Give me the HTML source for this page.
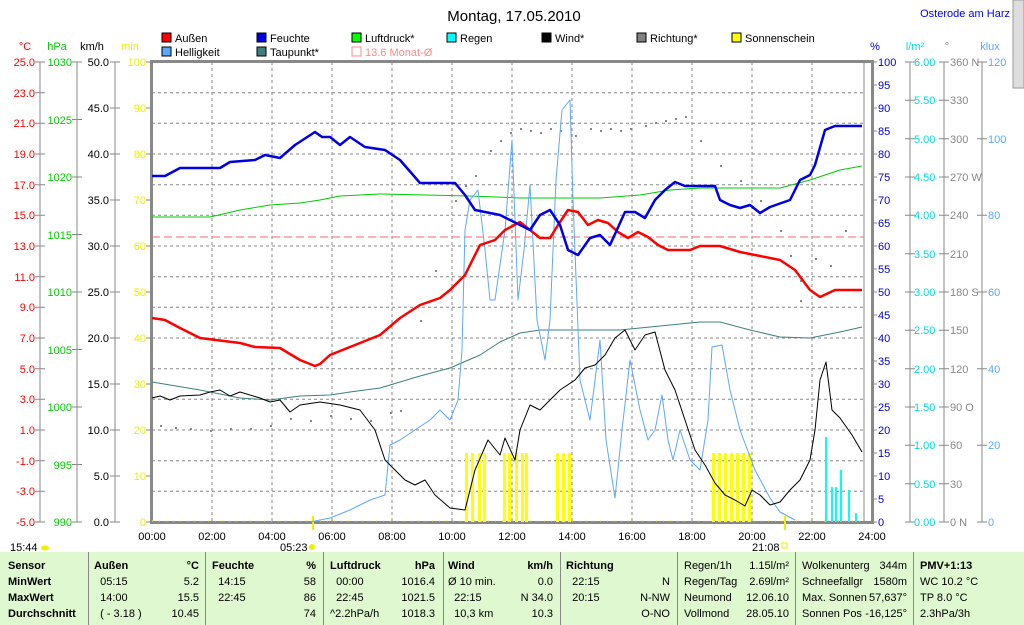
<!DOCTYPE html>
<html><head><meta charset="utf-8"><style>
body{margin:0;width:1024px;height:625px;overflow:hidden;background:#fff;font-family:"Liberation Sans",sans-serif}
svg{position:absolute;left:0;top:0}
text{font-family:"Liberation Sans",sans-serif;font-size:11px}
.tb{position:absolute;top:552px;left:0;width:1024px;height:73px;background:#e0f8d0}
.c{position:absolute;top:6px;font-size:11px;line-height:16px;color:#000}
.c div{white-space:pre}
.v{position:absolute;top:552px;width:1px;height:73px;background:#888}
</style></head><body>
<svg width="1024" height="625" viewBox="0 0 1024 625">
<rect x="1013" y="0" width="11" height="88" fill="#ddd" stroke="#999"/>
<text x="514" y="21" text-anchor="middle" style="font-size:15px">Montag, 17.05.2010</text>
<text x="1010" y="17" text-anchor="end" fill="#0000ff">Osterode am Harz</text>
<g font-size="11">
<rect x="162" y="33" width="9" height="9" fill="#f00" stroke="#000"/><text x="175" y="42">Außen</text>
<rect x="162" y="47" width="9" height="9" fill="#5ba8ff" stroke="#000"/><text x="175" y="56">Helligkeit</text>
<rect x="257" y="33" width="9" height="9" fill="#0000e0" stroke="#000"/><text x="270" y="42">Feuchte</text>
<rect x="257" y="47" width="9" height="9" fill="#3e8080" stroke="#000"/><text x="270" y="56">Taupunkt*</text>
<rect x="352" y="33" width="9" height="9" fill="#0f0" stroke="#000"/><text x="365" y="42">Luftdruck*</text>
<rect x="352" y="47" width="9" height="9" fill="none" stroke="#f88"/><text x="365" y="56" fill="#f88">13.6 Monat-Ø</text>
<rect x="447" y="33" width="9" height="9" fill="#0ff" stroke="#000"/><text x="460" y="42">Regen</text>
<rect x="542" y="33" width="9" height="9" fill="#000" stroke="#000"/><text x="555" y="42">Wind*</text>
<rect x="637" y="33" width="9" height="9" fill="#808080" stroke="#000"/><text x="650" y="42">Richtung*</text>
<rect x="732" y="33" width="9" height="9" fill="#ff0" stroke="#000"/><text x="745" y="42">Sonnenschein</text>
</g>
<text x="25" y="50" text-anchor="middle" fill="#f00">°C</text>
<text x="57" y="50" text-anchor="middle" fill="#0c0">hPa</text>
<text x="92" y="50" text-anchor="middle">km/h</text>
<text x="130" y="50" text-anchor="middle" fill="#ee0">min</text>
<text x="875" y="50" text-anchor="middle" fill="#0000e0">%</text>
<text x="915" y="50" text-anchor="middle" fill="#0dd">l/m²</text>
<text x="947" y="50" text-anchor="middle" fill="#888">°</text>
<text x="990" y="50" text-anchor="middle" fill="#5ba8ff">klux</text>
<g stroke="#888" fill="none">
<line x1="40" y1="62" x2="40" y2="522"/><line x1="77" y1="62" x2="77" y2="522"/><line x1="115" y1="62" x2="115" y2="522"/>
<line x1="910" y1="62" x2="910" y2="522"/><line x1="944" y1="62" x2="944" y2="522"/><line x1="982" y1="62" x2="982" y2="522"/>
<line x1="864" y1="62" x2="864" y2="522"/>
</g>
<rect x="151.5" y="61.5" width="721" height="461" fill="none" stroke="#888" stroke-width="3"/>
<g id="grid" stroke="#888" stroke-dasharray="3,3" fill="none">
<path d="M212 62V522M272 62V522M332 62V522M392 62V522M452 62V522M512 62V522M572 62V522M632 62V522M692 62V522M752 62V522M812 62V522"/>
<path d="M152 92.7H864M152 123.3H864M152 154H864M152 184.7H864M152 215.3H864M152 246H864M152 276.7H864M152 307.3H864M152 338H864M152 368.7H864M152 399.3H864M152 430H864M152 460.7H864M152 491.3H864"/>
</g>
<g id="ticks" stroke="#888">
<path d="M35 62h10M35 92.7h10M35 123.3h10M35 154h10M35 184.7h10M35 215.3h10M35 246h10M35 276.7h10M35 307.3h10M35 338h10M35 368.7h10M35 399.3h10M35 430h10M35 460.7h10M35 491.3h10M35 522h10"/>
<path d="M72 62h10M72 119.5h10M72 177h10M72 234.5h10M72 292h10M72 349.5h10M72 407h10M72 464.5h10M72 522h10"/>
<path d="M110 62h10M110 108h10M110 154h10M110 200h10M110 246h10M110 292h10M110 338h10M110 384h10M110 430h10M110 476h10M110 522h10"/>
<path d="M146 62h6M146 108h6M146 154h6M146 200h6M146 246h6M146 292h6M146 338h6M146 384h6M146 430h6M146 476h6M146 522h6"/>
<path d="M872 62h5M872 85h5M872 108h5M872 131h5M872 154h5M872 177h5M872 200h5M872 223h5M872 246h5M872 269h5M872 292h5M872 315h5M872 338h5M872 361h5M872 384h5M872 407h5M872 430h5M872 453h5M872 476h5M872 499h5M872 522h5"/>
<path d="M905 62h10M905 100.3h10M905 138.7h10M905 177h10M905 215.3h10M905 253.7h10M905 292h10M905 330.3h10M905 368.7h10M905 407h10M905 445.3h10M905 483.7h10M905 522h10"/>
<path d="M939 62h10M939 100.3h10M939 138.7h10M939 177h10M939 215.3h10M939 253.7h10M939 292h10M939 330.3h10M939 368.7h10M939 407h10M939 445.3h10M939 483.7h10M939 522h10"/>
<path d="M977 62h10M977 138.7h10M977 215.3h10M977 292h10M977 368.7h10M977 445.3h10M977 522h10"/>
</g>
<g fill="#f00" text-anchor="end">
<text x="35" y="66">25.0</text><text x="35" y="97">23.0</text><text x="35" y="127">21.0</text><text x="35" y="158">19.0</text><text x="35" y="189">17.0</text><text x="35" y="219">15.0</text><text x="35" y="250">13.0</text><text x="35" y="281">11.0</text><text x="35" y="311">9.0</text><text x="35" y="342">7.0</text><text x="35" y="373">5.0</text><text x="35" y="403">3.0</text><text x="35" y="434">1.0</text><text x="35" y="465">-1.0</text><text x="35" y="495">-3.0</text><text x="35" y="526">-5.0</text>
</g>
<g fill="#0c0" text-anchor="end">
<text x="72" y="66">1030</text><text x="72" y="124">1025</text><text x="72" y="181">1020</text><text x="72" y="239">1015</text><text x="72" y="296">1010</text><text x="72" y="354">1005</text><text x="72" y="411">1000</text><text x="72" y="469">995</text><text x="72" y="526">990</text>
</g>
<g text-anchor="end">
<text x="109" y="66">50.0</text><text x="109" y="112">45.0</text><text x="109" y="158">40.0</text><text x="109" y="204">35.0</text><text x="109" y="250">30.0</text><text x="109" y="296">25.0</text><text x="109" y="342">20.0</text><text x="109" y="388">15.0</text><text x="109" y="434">10.0</text><text x="109" y="480">5.0</text><text x="109" y="526">0.0</text>
</g>
<g fill="#ee0" text-anchor="end">
<text x="146" y="66">100</text><text x="146" y="112">90</text><text x="146" y="158">80</text><text x="146" y="204">70</text><text x="146" y="250">60</text><text x="146" y="296">50</text><text x="146" y="342">40</text><text x="146" y="388">30</text><text x="146" y="434">20</text><text x="146" y="480">10</text><text x="146" y="526">0</text>
</g>
<g fill="#0000e0">
<text x="878" y="66">100</text><text x="878" y="89">95</text><text x="878" y="112">90</text><text x="878" y="135">85</text><text x="878" y="158">80</text><text x="878" y="181">75</text><text x="878" y="204">70</text><text x="878" y="227">65</text><text x="878" y="250">60</text><text x="878" y="273">55</text><text x="878" y="296">50</text><text x="878" y="319">45</text><text x="878" y="342">40</text><text x="878" y="365">35</text><text x="878" y="388">30</text><text x="878" y="411">25</text><text x="878" y="434">20</text><text x="878" y="457">15</text><text x="878" y="480">10</text><text x="878" y="503">5</text><text x="878" y="526">0</text>
</g>
<g fill="#0dd">
<text x="914" y="66">6.00</text><text x="914" y="104">5.50</text><text x="914" y="143">5.00</text><text x="914" y="181">4.50</text><text x="914" y="219">4.00</text><text x="914" y="258">3.50</text><text x="914" y="296">3.00</text><text x="914" y="334">2.50</text><text x="914" y="373">2.00</text><text x="914" y="411">1.50</text><text x="914" y="449">1.00</text><text x="914" y="488">0.50</text><text x="914" y="526">0.00</text>
</g>
<g fill="#888">
<text x="950" y="66">360 N</text><text x="950" y="104">330</text><text x="950" y="143">300</text><text x="950" y="181">270 W</text><text x="950" y="219">240</text><text x="950" y="258">210</text><text x="950" y="296">180 S</text><text x="950" y="334">150</text><text x="950" y="373">120</text><text x="950" y="411">90  O</text><text x="950" y="449">60</text><text x="950" y="488">30</text><text x="950" y="526">0    N</text>
</g>
<g fill="#5ba8ff">
<text x="988" y="66">120</text><text x="988" y="143">100</text><text x="988" y="219">80</text><text x="988" y="296">60</text><text x="988" y="373">40</text><text x="988" y="449">20</text><text x="988" y="526">0</text>
</g>
<g text-anchor="middle">
<text x="152" y="540">00:00</text><text x="212" y="540">02:00</text><text x="272" y="540">04:00</text><text x="332" y="540">06:00</text><text x="392" y="540">08:00</text><text x="452" y="540">10:00</text><text x="512" y="540">12:00</text><text x="572" y="540">14:00</text><text x="632" y="540">16:00</text><text x="692" y="540">18:00</text><text x="752" y="540">20:00</text><text x="812" y="540">22:00</text><text x="872" y="540">24:00</text>
</g>
<text x="10" y="551">15:44</text><ellipse cx="45" cy="548" rx="4" ry="2.5" fill="#ee0"/>
<text x="280" y="551">05:23</text><circle cx="312" cy="547" r="3" fill="#ee0"/>
<text x="752" y="551">21:08</text><rect x="782" y="543" width="5" height="5" fill="none" stroke="#ee0"/>
<line x1="313" y1="516" x2="313" y2="530" stroke="#ee0" stroke-width="2"/>
<line x1="785" y1="516" x2="785" y2="530" stroke="#ee0" stroke-width="2"/>
<line x1="152" y1="521" x2="864" y2="521" stroke="#ee0" stroke-dasharray="1,6"/>
<line x1="152" y1="237" x2="864" y2="237" stroke="#f66" stroke-dasharray="8,4"/>
<g fill="#ff0" stroke="none">
<rect x="465" y="453" width="3" height="69"/><rect x="471" y="453" width="3" height="69"/><rect x="478" y="453" width="3" height="69"/><rect x="483" y="453" width="3" height="69"/>
<rect x="503" y="453" width="3" height="69"/><rect x="508" y="453" width="3" height="69"/><rect x="515" y="453" width="3" height="69"/><rect x="521" y="453" width="3" height="69"/><rect x="525" y="453" width="3" height="69"/>
<rect x="556" y="453" width="3" height="69"/><rect x="562" y="453" width="3" height="69"/><rect x="568" y="453" width="3" height="69"/>
<rect x="712" y="453" width="3" height="69"/><rect x="718" y="453" width="3" height="69"/><rect x="724" y="453" width="3" height="69"/><rect x="730" y="453" width="3" height="69"/><rect x="736" y="453" width="3" height="69"/><rect x="742" y="453" width="3" height="69"/><rect x="748" y="453" width="3" height="69"/>
</g>
<g fill="#0ff"><rect x="825" y="437" width="2" height="85"/><rect x="831" y="487" width="2" height="35"/><rect x="835" y="487" width="2" height="35"/><rect x="840" y="470" width="2" height="52"/><rect x="848" y="490" width="2" height="32"/><rect x="855" y="513" width="2" height="9"/></g>
<g fill="#888">
<path d="M160 425h2v2h-2zM175 427h2v2h-2zM190 428h2v2h-2zM210 430h2v2h-2zM230 428h2v2h-2zM250 428h2v2h-2zM270 425h2v2h-2zM290 418h2v2h-2zM310 420h2v2h-2zM330 415h2v2h-2zM350 418h2v2h-2zM370 420h2v2h-2zM390 412h2v2h-2zM400 410h2v2h-2zM420 320h2v2h-2zM435 270h2v2h-2zM455 200h2v2h-2zM465 185h2v2h-2zM475 175h2v2h-2zM490 150h2v2h-2zM500 140h2v2h-2zM510 132h2v2h-2zM520 128h2v2h-2zM530 130h2v2h-2zM540 132h2v2h-2zM550 128h2v2h-2zM560 130h2v2h-2zM575 135h2v2h-2zM590 128h2v2h-2zM600 130h2v2h-2zM610 128h2v2h-2zM620 130h2v2h-2zM630 128h2v2h-2zM645 125h2v2h-2zM655 122h2v2h-2zM665 120h2v2h-2zM675 118h2v2h-2zM685 116h2v2h-2zM700 140h2v2h-2zM720 165h2v2h-2zM740 180h2v2h-2zM760 200h2v2h-2zM780 230h2v2h-2zM790 255h2v2h-2zM800 280h2v2h-2zM815 258h2v2h-2zM830 265h2v2h-2zM845 230h2v2h-2zM800 300h2v2h-2z"/>
</g>
<g fill="none" stroke-linejoin="round">
<polyline stroke="#0c0" stroke-width="1" points="152,217 210,217 240,210 270,205 300,203 320,200 340,196 380,194 470,196 520,198 600,198 640,195 670,190 700,188 780,188 810,180 840,170 862,166"/>
<polyline stroke="#3e8080" stroke-width="1" points="152,382 200,390 240,398 270,400 300,396 330,395 350,392 380,388 420,376 450,368 480,355 500,342 520,333 540,330 580,330 620,330 660,326 700,322 720,322 750,330 780,337 810,338 840,332 862,327"/>
<polyline stroke="#5ba8ff" stroke-width="1" points="310,522 330,518 350,510 370,500 385,495 390,445 400,440 415,430 430,420 440,410 450,420 458,400 462,350 465,230 470,200 478,190 485,250 490,300 495,300 505,230 512,140 518,300 524,250 530,185 537,320 545,360 550,320 556,180 562,110 570,100 573,200 580,380 590,420 600,340 606,440 615,498 622,430 630,360 640,410 648,440 655,430 662,395 668,440 673,460 680,430 690,460 700,470 708,420 712,347 722,345 730,390 740,430 755,470 770,498 780,512 795,520"/>
<polyline stroke="#000" stroke-width="1" points="152,398 160,396 170,400 180,396 200,395 210,392 220,390 230,396 240,392 260,398 270,402 280,400 290,412 300,405 320,402 340,405 360,410 375,430 385,460 395,470 405,480 415,485 425,480 435,495 450,508 465,510 475,470 488,440 500,455 505,438 515,460 520,430 530,405 540,410 550,400 560,390 575,380 585,368 595,365 605,355 615,338 625,330 635,350 645,335 655,332 665,370 675,390 685,420 695,450 705,465 715,483 725,495 735,500 745,506 752,490 760,495 770,505 780,502 790,490 800,480 810,460 815,430 820,380 826,362 832,410 840,418 852,435 862,452"/>
<polyline stroke="#f00" stroke-width="2.5" points="152,318 165,320 180,328 200,338 240,343 255,347 280,348 300,360 315,366 320,364 330,355 350,347 380,335 400,318 420,305 440,298 450,290 465,275 480,245 495,240 505,230 520,222 530,230 540,238 550,238 558,225 568,210 578,212 588,225 598,220 608,223 618,232 628,238 638,232 648,237 658,245 668,250 690,250 700,246 720,246 740,252 760,256 780,260 795,270 810,290 820,297 835,290 862,290"/>
<polyline stroke="#0000e0" stroke-width="2.5" points="152,176 165,176 180,168 220,168 230,162 255,160 265,155 280,158 295,145 315,132 322,137 330,137 340,145 350,137 365,147 385,150 400,160 420,183 455,183 465,195 475,210 500,215 520,225 530,230 540,215 550,210 560,225 568,250 578,255 590,238 600,235 610,245 625,212 635,212 645,218 655,200 665,190 675,182 685,186 715,186 720,200 730,205 740,208 750,205 760,213 770,207 790,200 800,180 810,175 815,165 825,130 835,126 862,126"/>
</g>
</svg>
<div class="tb">
<div class="c" style="left:8px;font-weight:bold"><div>Sensor</div><div>MinWert</div><div>MaxWert</div><div>Durchschnitt</div></div>
<div class="c" style="left:94px;width:105px"><div><b>Außen</b><b style="float:right">°C</b></div><div>  05:15<span style="float:right">5.2</span></div><div>  14:00<span style="float:right">15.5</span></div><div>  ( - 3.18 )<span style="float:right">10.45</span></div></div>
<div class="c" style="left:212px;width:104px"><div><b>Feuchte</b><b style="float:right">%</b></div><div>  14:15<span style="float:right">58</span></div><div>  22:45<span style="float:right">86</span></div><div> <span style="float:right">74</span></div></div>
<div class="c" style="left:330px;width:105px"><div><b>Luftdruck</b><b style="float:right">hPa</b></div><div>  00:00<span style="float:right">1016.4</span></div><div>  22:45<span style="float:right">1021.5</span></div><div>^2.2hPa/h<span style="float:right">1018.3</span></div></div>
<div class="c" style="left:448px;width:105px"><div><b>Wind</b><b style="float:right">km/h</b></div><div>Ø 10 min.<span style="float:right">0.0</span></div><div>  22:15<span style="float:right">N 34.0</span></div><div>  10,3 km<span style="float:right">10.3</span></div></div>
<div class="c" style="left:566px;width:104px"><div><b>Richtung</b></div><div>  22:15<span style="float:right">N</span></div><div>  20:15<span style="float:right">N-NW</span></div><div> <span style="float:right">O-NO</span></div></div>
<div class="c" style="left:684px;width:105px"><div>Regen/1h<span style="float:right">1.15l/m²</span></div><div>Regen/Tag<span style="float:right">2.69l/m²</span></div><div>Neumond<span style="float:right">12.06.10</span></div><div>Vollmond<span style="float:right">28.05.10</span></div></div>
<div class="c" style="left:802px;width:105px"><div>Wolkenunterg<span style="float:right">344m</span></div><div>Schneefallgr<span style="float:right">1580m</span></div><div>Max. Sonnen<span style="float:right">57,637°</span></div><div>Sonnen Pos<span style="float:right">-16,125°</span></div></div>
<div class="c" style="left:920px"><div><b>PMV+1:13</b></div><div>WC 10.2 °C</div><div>TP 8.0 °C</div><div>2.3hPa/3h</div></div>
</div>
<div class="v" style="left:88px"></div><div class="v" style="left:205px"></div><div class="v" style="left:323px"></div><div class="v" style="left:443px"></div><div class="v" style="left:560px"></div><div class="v" style="left:677px"></div><div class="v" style="left:795px"></div><div class="v" style="left:913px"></div>
</body></html>
